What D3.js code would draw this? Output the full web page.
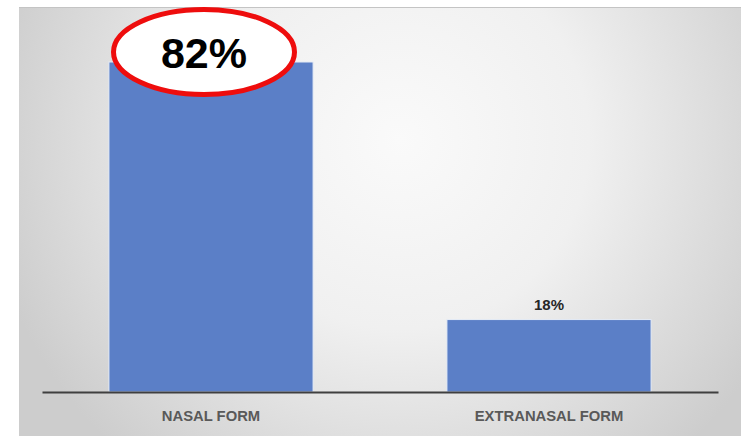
<!DOCTYPE html>
<html>
<head>
<meta charset="utf-8">
<script src="https://cdn.jsdelivr.net/npm/d3@7"></script>
<style>
  html, body { margin: 0; padding: 0; background: #ffffff; }
  svg { display: block; }
</style>
</head>
<body>
<svg id="chart" width="744" height="436"></svg>
<script>
// Share of cases by clinical form
const categories = ["NASAL FORM", "EXTRANASAL FORM"];
const values = [82, 18];
const labels = ["82%", "18%"];
const highlighted = [true, false];

const W = 744, H = 436;
const svg = d3.select("#chart");

// panel background with soft radial shading
const defs = svg.append("defs");
const grad = defs.append("radialGradient")
  .attr("id", "panelBg")
  .attr("gradientUnits", "userSpaceOnUse")
  .attr("cx", 400).attr("cy", 140).attr("r", 420)
  .attr("fx", 400).attr("fy", 140);
grad.append("stop").attr("offset", "0").attr("stop-color", "#fafafa");
grad.append("stop").attr("offset", "0.45").attr("stop-color", "#f0f0f0");
grad.append("stop").attr("offset", "1").attr("stop-color", "#cdcdcd");

svg.append("rect")
  .attr("x", 19).attr("y", 7).attr("width", 722).attr("height", 432)
  .attr("fill", "url(#panelBg)");
svg.append("line")
  .attr("x1", 19).attr("x2", 741).attr("y1", 7.5).attr("y2", 7.5)
  .attr("stroke", "#c4c4c4").attr("stroke-width", 1);

const x = d3.scaleBand().domain(categories).range([42, 718]).paddingInner(0.396).paddingOuter(0.198);
const y = d3.scaleLinear().domain([0, 82]).range([392, 62]);

// bars
svg.selectAll("rect.bar")
  .data(categories)
  .join("rect")
  .attr("class", "bar")
  .attr("x", d => x(d))
  .attr("width", x.bandwidth())
  .attr("y", (d, i) => y(values[i]))
  .attr("height", (d, i) => y(0) - y(values[i]))
  .attr("fill", "#5b7fc7")
  .attr("stroke", "#e6ecf6")
  .attr("stroke-width", 1);

// baseline axis
const xAxis = d3.axisBottom(x).tickSize(0).tickPadding(0);
const ax = svg.append("g").attr("transform", `translate(0,${y(0)})`).call(xAxis);
ax.select(".domain").attr("stroke", "#3f3f3f").attr("stroke-width", 2.2);
ax.selectAll(".tick text")
  .attr("dy", 0).attr("y", 29)
  .attr("fill", "#595959")
  .style("font-family", "'Liberation Sans', Arial, sans-serif")
  .style("font-weight", "bold")
  .style("font-size", "14.8px");

// value labels
categories.forEach((c, i) => {
  const cx = x(c) + x.bandwidth() / 2;
  if (highlighted[i]) {
    const cy = 52;
    svg.append("ellipse")
      .attr("cx", cx - 7).attr("cy", cy)
      .attr("rx", 90.5).attr("ry", 42.5)
      .attr("fill", "#ffffff")
      .attr("stroke", "#ee0d0d").attr("stroke-width", 5);
    svg.append("text")
      .attr("x", cx - 7).attr("y", 68)
      .attr("text-anchor", "middle")
      .attr("fill", "#000000")
      .style("font-family", "'Liberation Sans', Arial, sans-serif")
      .style("font-weight", "bold")
      .style("font-size", "43px")
      .text(labels[i]);
  } else {
    svg.append("text")
      .attr("x", cx).attr("y", y(values[i]) - 10)
      .attr("text-anchor", "middle")
      .attr("fill", "#262626")
      .style("font-family", "'Liberation Sans', Arial, sans-serif")
      .style("font-weight", "bold")
      .style("font-size", "15px")
      .text(labels[i]);
  }
});
</script>
</body>
</html>
